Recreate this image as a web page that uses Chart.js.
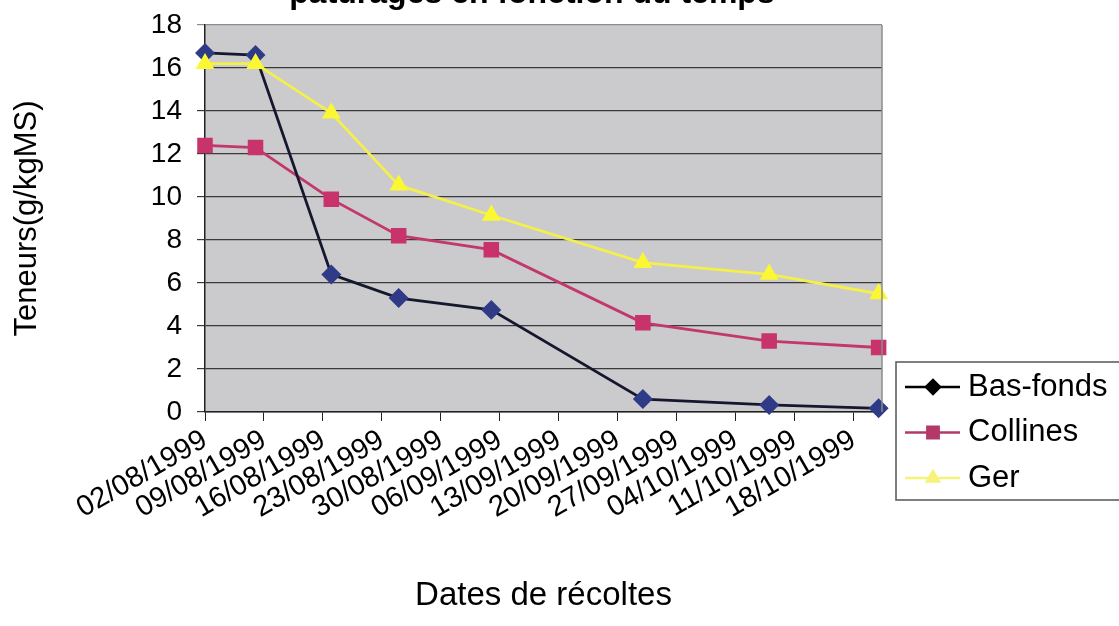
<!DOCTYPE html>
<html>
<head>
<meta charset="utf-8">
<script src="https://cdn.jsdelivr.net/npm/chart.js@4.4.1/dist/chart.umd.min.js"></script>
<style>
  html, body { margin: 0; padding: 0; background: #fff; }
  #wrap { width: 1119px; height: 626px; }
</style>
</head>
<body>
<div id="wrap"><canvas id="chart"></canvas></div>
<script>
const titleText = 'pâturages en fonction du temps';
const yTitle = 'Teneurs(g/kgMS)';
const xTitle = 'Dates de récoltes';

// harvest dates and contents (g/kg MS)
const sampleDates = ['02/08/1999', '08/08/1999', '17/08/1999', '25/08/1999', '05/09/1999', '23/09/1999', '08/10/1999', '21/10/1999'];
const basFonds = [16.7, 16.6, 6.4, 5.3, 4.75, 0.6, 0.33, 0.17];
const collines = [12.4, 12.3, 9.9, 8.2, 7.55, 4.15, 3.3, 3.0];
const ger = [16.2, 16.2, 13.9, 10.55, 9.15, 6.95, 6.4, 5.5];

// weekly tick labels on the date axis
const tickDates = ['02/08/1999', '09/08/1999', '16/08/1999', '23/08/1999', '30/08/1999', '06/09/1999',
                   '13/09/1999', '20/09/1999', '27/09/1999', '04/10/1999', '11/10/1999', '18/10/1999'];
const yTicks = [0, 2, 4, 6, 8, 10, 12, 14, 16, 18];

const FONT = '"Liberation Sans", Arial, sans-serif';

function dayOf(s) {
    const [d, m, y] = s.split('/').map(Number);
    return (Date.UTC(y, m - 1, d) - Date.UTC(1999, 7, 2)) / 864e5;
}

function points(values) {
    return sampleDates.map((s, i) => ({ x: dayOf(s), y: values[i] }));
}

// title is cropped at the top of the picture, only its lower part shows
const cutTitle = {
    id: 'cutTitle',
    afterDraw(chart) {
        const ctx = chart.ctx;
        ctx.save();
        ctx.fillStyle = '#000';
        ctx.font = 'bold 32px ' + FONT;
        ctx.textAlign = 'center';
        ctx.textBaseline = 'alphabetic';
        ctx.fillText(titleText, 532, 3);
        ctx.restore();
    }
};

const plotBg = {
    id: 'plotBg',
    beforeDatasetsDraw(chart) {
        const { ctx, chartArea: a } = chart;
        ctx.save();
        ctx.globalCompositeOperation = 'destination-over';
        ctx.fillStyle = '#cbcbcd';
        ctx.fillRect(a.left, a.top, a.right - a.left, a.bottom - a.top);
        ctx.restore();
    },
    afterDraw(chart) {
        const { ctx, chartArea: a } = chart;
        ctx.save();
        ctx.strokeStyle = '#8c8c8c';
        ctx.lineWidth = 1.5;
        ctx.beginPath();
        ctx.moveTo(a.right, a.top);
        ctx.lineTo(a.right, a.bottom);
        ctx.stroke();
        ctx.restore();
    }
};

const boxLegend = {
    id: 'boxLegend',
    afterDraw(chart) {
        const ctx = chart.ctx;
        ctx.save();
        ctx.fillStyle = '#fff';
        ctx.strokeStyle = '#555';
        ctx.lineWidth = 1.5;
        ctx.fillRect(896, 362, 240, 138);
        ctx.strokeRect(896, 362, 240, 138);
        chart.data.datasets.forEach((ds, i) => {
            const y = 387 + i * 45.5;
            ctx.strokeStyle = ds.legendColor;
            ctx.lineWidth = 2.5;
            ctx.beginPath();
            ctx.moveTo(905, y);
            ctx.lineTo(960, y);
            ctx.stroke();
            ctx.fillStyle = ds.legendColor;
            ctx.strokeStyle = ds.legendColor;
            Chart.helpers.drawPoint(ctx, { pointStyle: ds.pointStyle, radius: ds.pointRadius - 1, borderWidth: 1, rotation: 0 }, 933, y);
            ctx.fillStyle = '#000';
            ctx.font = '31px ' + FONT;
            ctx.textBaseline = 'middle';
            ctx.textAlign = 'left';
            ctx.fillText(ds.label, 968, y);
        });
        ctx.restore();
    }
};

new Chart(document.getElementById('chart'), {
    type: 'line',
    data: {
        datasets: [{
            label: 'Bas-fonds',
            data: points(basFonds),
            borderColor: '#15172e',
            borderWidth: 2.8,
            pointStyle: 'rectRot',
            pointRadius: 8,
            pointBackgroundColor: '#2f3b86',
            pointBorderColor: '#2f3b86',
            legendColor: '#000000',
            order: 1
        }, {
            label: 'Collines',
            data: points(collines),
            borderColor: '#c2386c',
            borderWidth: 2.8,
            pointStyle: 'rect',
            pointRadius: 9,
            pointBackgroundColor: '#c8336b',
            pointBorderColor: '#c8336b',
            legendColor: '#b5386a',
            order: 2
        }, {
            label: 'Ger',
            data: points(ger),
            borderColor: '#f4ef4a',
            borderWidth: 2.8,
            pointStyle: 'triangle',
            pointRadius: 8,
            pointBackgroundColor: '#fbf733',
            pointBorderColor: '#fbf733',
            legendColor: '#f6f27a',
            order: 0
        }]
    },
    options: {
        responsive: true,
        maintainAspectRatio: false,
        animation: false,
        datasets: { line: { clip: false, tension: 0 } },
        layout: { padding: { top: 25, right: 237, left: 0, bottom: 0 } },
        plugins: {
            legend: { display: false },
            tooltip: { enabled: false },
            title: { display: false }
        },
        scales: {
            x: {
                type: 'linear',
                min: 0,
                max: 80.4,
                afterFit: (scale) => { scale.height = 214; },
                afterBuildTicks: (scale) => { scale.ticks = tickDates.map(s => ({ value: dayOf(s) })); },
                grid: { drawOnChartArea: false, drawTicks: true, tickLength: 9, color: '#222' },
                border: { color: '#222', width: 1.5 },
                ticks: {
                    autoSkip: false,
                    minRotation: 30,
                    maxRotation: 30,
                    padding: 2,
                    color: '#000',
                    font: { family: FONT, size: 29 },
                    callback: (v, i) => tickDates[i]
                },
                title: {
                    display: true,
                    text: xTitle,
                    color: '#000',
                    font: { family: FONT, size: 33 },
                    padding: { top: 0, bottom: 10 }
                }
            },
            y: {
                min: 0,
                max: 18,
                afterFit: (scale) => {
                    scale.width = 205;
                    scale.paddingTop = 0;
                    scale.paddingBottom = 0;
                },
                afterBuildTicks: (scale) => { scale.ticks = yTicks.map(v => ({ value: v })); },
                grid: {
                    color: (c) => c.tick && c.tick.value === 18 ? '#8c8c8c' : '#3a3a3a',
                    lineWidth: 1.2,
                    tickLength: 8
                },
                border: { color: '#222', width: 1.5 },
                ticks: {
                    padding: 15,
                    color: '#000',
                    font: { family: FONT, size: 28 }
                },
                title: {
                    display: true,
                    text: yTitle,
                    color: '#000',
                    font: { family: FONT, size: 31 },
                    padding: { top: 9, bottom: 0 }
                }
            }
        }
    },
    plugins: [plotBg, boxLegend, cutTitle]
});
</script>
</body>
</html>
